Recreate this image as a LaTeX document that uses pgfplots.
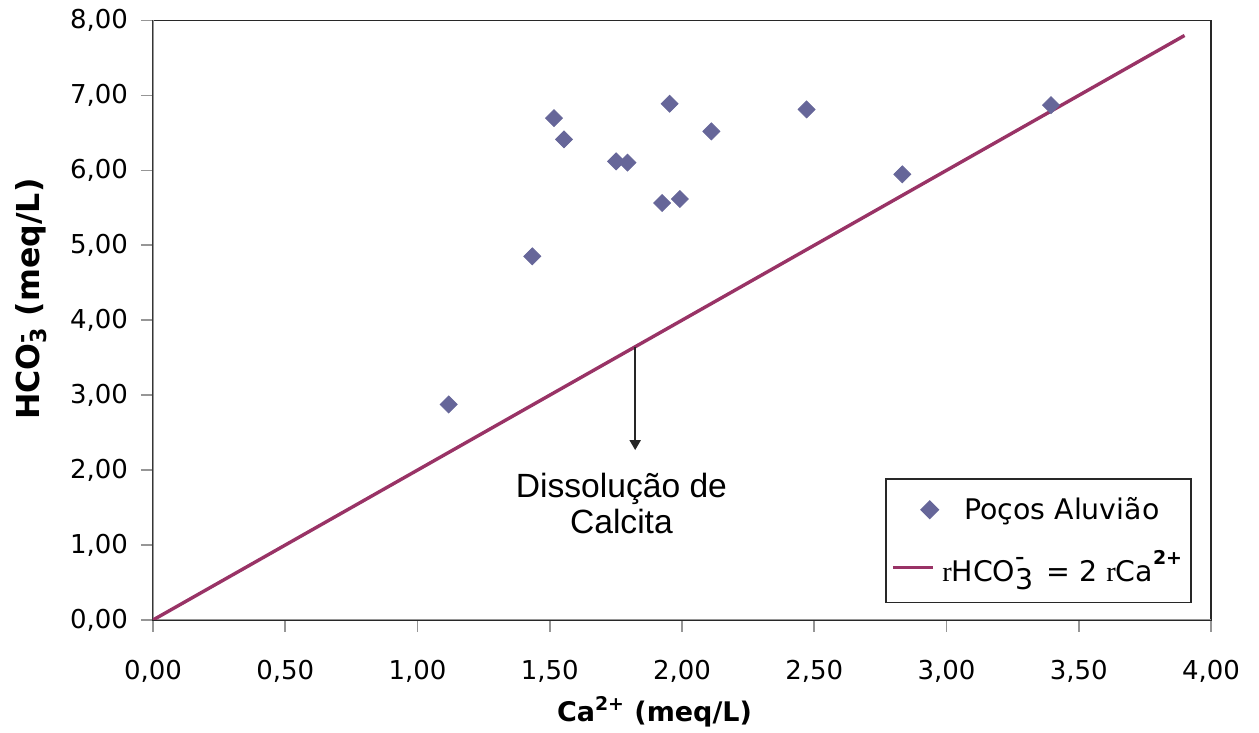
\documentclass[border=0pt]{standalone}
\usepackage{fontspec}
\setmainfont{DejaVu Sans}
\newfontfamily\arialfont{Liberation Sans}
\newfontfamily\serifr{Liberation Serif}
\usepackage{pgfplots}
\pgfplotsset{compat=1.18}
\usetikzlibrary{arrows.meta,calc}
\definecolor{pocos}{RGB}{102,102,153}
\definecolor{razao}{RGB}{153,51,102}
\definecolor{eixo}{RGB}{150,150,150}
\definecolor{borda}{RGB}{40,40,40}

% legend symbols: a single diamond, and a short line segment
\pgfplotsset{
  leg diamond/.style={legend image code/.code={\draw[##1] plot coordinates {(18.5pt,0pt)};}},
  leg line/.style={legend image code/.code={\draw[##1] (0pt,0pt) -- (20pt,0pt);}},
}

\begin{document}
\begin{tikzpicture}
\begin{axis}[
  name=ax,
  at={(0,0)}, anchor=south west,
  scale only axis,
  width=529pt, height=299.75pt,
  xmin=0, xmax=4, ymin=0, ymax=8,
  xtick={0,0.5,...,4}, ytick={0,1,...,8},
  xtick pos=lower, ytick pos=left,
  tick align=outside,
  major tick length=6pt,
  tick style={draw=eixo, line width=0.8pt},
  axis line style={draw=borda, line width=0.8pt},
  /pgf/number format/fixed,
  /pgf/number format/fixed zerofill,
  /pgf/number format/precision=2,
  /pgf/number format/use comma,
  /pgf/number format/assume math mode=true,
  ticklabel style={font=\fontsize{13}{15}\selectfont},
  xticklabel style={yshift=-10.5pt},
  yticklabel style={xshift=-3pt},
  xlabel={Ca\textsuperscript{2+} (meq/L)},
  ylabel={HCO\rlap{\textsuperscript{-}}\textsubscript{3} (meq/L)},
  xlabel style={font=\fontsize{13.5}{16}\selectfont\bfseries,
    at={(axis description cs:0.474,-0.153)}, anchor=center},
  ylabel style={font=\fontsize{15.8}{18}\selectfont\bfseries,
    at={(axis description cs:-0.115,0.535)}, anchor=center},
  legend style={at={(axis description cs:0.982,0.0279)}, anchor=south east,
    draw=borda, line width=0.8pt,
    font=\fontsize{14.2}{16.5}\selectfont,
    inner xsep=2.5pt, inner ysep=7pt, row sep=10pt},
  legend cell align=left,
]
% left and bottom axis lines in grey, under the data
\draw[eixo, line width=0.8pt] (rel axis cs:0,1) -- (rel axis cs:0,0) -- (rel axis cs:1,0);

\addplot[only marks, mark=square*, mark size=3pt,
  mark options={rotate=45, fill=pocos, draw=pocos}, leg diamond]
  coordinates {
  (1.118,2.876) (1.434,4.853) (1.516,6.697) (1.554,6.413)
  (1.751,6.120) (1.794,6.103) (1.925,5.564) (1.992,5.617)
  (1.953,6.889) (2.111,6.520) (2.471,6.813) (2.833,5.947)
  (3.395,6.871)
  };
\addlegendentry{\hspace{11pt}Poços Aluvião}

\addplot[razao, line width=1.7pt, no marks, leg line]
  coordinates {(0,0) (3.9,7.8)};
\addlegendentry{{\serifr r}HCO\rlap{\raisebox{0.62em}{\fontsize{9}{9}\selectfont\bfseries --}}\raisebox{-0.3em}{3}\hspace{2pt} = 2 {\serifr r}Ca\raisebox{0.6em}{\fontsize{9.5}{9.5}\selectfont\bfseries 2+}}

\draw[black!85, line width=1pt, -{Triangle[width=5.5pt,length=5pt]}]
  (axis cs:1.823,3.646) -- (axis cs:1.823,2.267);
\node[font=\arialfont\fontsize{16.8}{18}\selectfont, align=center]
  at (axis cs:1.771,1.56) {Dissolução de\\Calcita};
\end{axis}
\pgfresetboundingbox
\path ($(ax.south west)+(-76.5pt,-56.5pt)$) rectangle ($(ax.north east)+(24pt,10.25pt)$);
\end{tikzpicture}
\end{document}
